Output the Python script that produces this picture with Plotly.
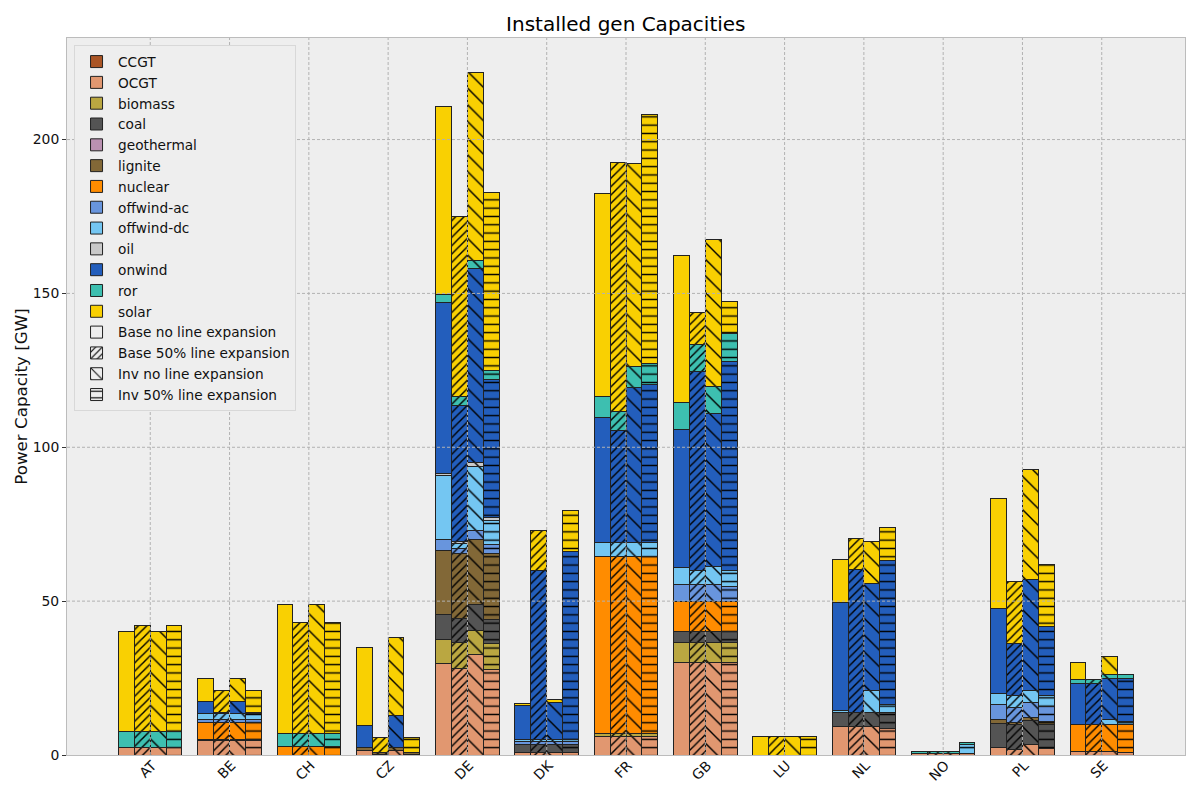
import plotly.graph_objects as go

countries = ["AT", "BE", "CH", "CZ", "DE", "DK", "FR", "GB", "LU", "NL", "NO", "PL", "SE"]

scenarios = [
    "Base no line expansion",
    "Base 50% line expansion",
    "Inv no line expansion",
    "Inv 50% line expansion",
]

y_ticks = [0, 50, 100, 150, 200]

# GW per stacked segment, four scenario values per country
ccgt = [0] * 52
geothermal = [0] * 52
ocgt = [
    2.6, 2.6, 2.6, 2.6,  4.6, 4.6, 4.6, 4.6,  0, 0, 0, 0,  1.5, 0.2, 1.5, 0.2,
    29.6, 28.2, 32.5, 27.8,  0.9, 0.9, 0.9, 0.9,  6.1, 6.1, 6.1, 6.1,
    29.9, 29.9, 29.9, 29.9,  0, 0, 0, 0,  9.2, 9.2, 9.2, 8.6,
    0.4, 0.4, 0.4, 0.4,  2.6, 1.9, 3.3, 2.0,  1.0, 1.0, 1.0, 0.9,
]
biomass = [
    0, 0, 0, 0,  0, 0, 0, 0,  0, 0, 0, 0,  0, 0, 0, 0,
    7.8, 8.2, 8.0, 8.3,  0, 0, 0, 0,  0.8, 0.8, 0.8, 0.8,
    6.7, 6.7, 6.7, 6.7,  0, 0, 0, 0,  0, 0, 0, 0,
    0, 0, 0, 0,  0, 0, 0, 0,  0, 0, 0, 0,
]
coal = [
    0, 0, 0, 0,  0.3, 0.3, 0.3, 0.3,  0, 0, 0, 0,  0, 0, 0, 0,
    8.1, 8.1, 8.4, 7.9,  2.4, 2.4, 2.4, 2.4,  0, 0, 0, 0,
    3.4, 3.4, 3.4, 3.4,  0, 0, 0, 0,  4.5, 4.5, 4.5, 5.1,
    0, 0, 0, 0,  7.7, 8.0, 7.8, 7.9,  0, 0, 0, 0,
]
lignite = [
    0, 0, 0, 0,  0, 0, 0, 0,  0, 0, 0, 0,  1.1, 0.6, 1.1, 0.6,
    21.1, 21.1, 21.1, 21.4,  0, 0, 0, 0,  0, 0, 0, 0,
    0, 0, 0, 0,  0, 0, 0, 0,  0, 0, 0, 0,
    0, 0, 0, 0,  1.1, 0.7, 1.0, 0.9,  0, 0, 0, 0,
]
nuclear = [
    0, 0, 0, 0,  5.8, 5.8, 5.8, 5.8,  2.8, 2.8, 2.8, 2.8,  0, 0, 0, 0,
    0, 0, 0, 0,  0, 0, 0, 0,  57.6, 57.6, 57.6, 57.6,
    9.9, 9.9, 9.9, 9.9,  0, 0, 0, 0,  0, 0, 0, 0,
    0, 0, 0, 0,  0, 0, 0, 0,  8.8, 8.8, 8.8, 8.9,
]
offwind_ac = [
    0, 0, 0, 0,  1.0, 1.0, 1.0, 1.0,  0, 0, 0, 0,  0, 0, 0, 0,
    3.3, 1.6, 2.9, 2.9,  1.0, 1.0, 1.0, 1.0,  0, 0, 0, 0,
    5.4, 5.4, 5.4, 4.7,  0, 0, 0, 0,  0, 0, 0, 0,
    0, 0, 0, 0,  4.9, 4.9, 4.9, 5.0,  0, 0, 0, 0,
]
offwind_dc = [
    0, 0, 0, 0,  1.9, 1.9, 1.9, 1.9,  0, 0, 0, 0,  0, 0, 0, 0,
    21.0, 1.5, 20.9, 7.9,  0.6, 0.6, 0.6, 0.6,  4.7, 4.7, 4.7, 4.7,
    5.5, 4.5, 5.8, 5.2,  0, 0, 0, 0,  0.9, 0.2, 7.1, 2.7,
    0, 0, 0, 3.0,  3.6, 3.9, 3.9, 3.5,  0, 0, 1.6, 1.2,
]
oil = [
    0, 0, 0, 0,  0, 0, 0, 0,  0, 0, 0, 0,  0, 0, 0, 0,
    0.7, 0.7, 1.1, 1.0,  0, 0, 0, 0,  0, 0, 0, 0,
    0, 0, 0, 0,  0, 0, 0, 0,  0, 0, 0, 0,
    0, 0, 0, 0,  0, 0, 0, 0,  0, 0, 0, 0,
]
onwind = [
    0, 0, 0, 0,  3.9, 0.1, 3.9, 0.1,  0, 0, 0, 0,  7.1, 0, 10.4, 0,
    55.5, 44.3, 63.3, 44.7,  11.1, 55.2, 12.2, 61.1,  40.6, 36.1, 50.3, 51.1,
    45.1, 64.8, 50.0, 68.0,  0, 0, 0, 0,  34.8, 46.3, 34.8, 46.7,
    0, 0, 0, 0,  27.7, 16.9, 36.1, 22.5,  13.3, 13.3, 13.4, 14.0,
]
ror = [
    4.9, 4.9, 4.9, 4.9,  0, 0, 0, 0,  4.3, 4.3, 4.3, 4.3,  0, 0, 0, 0,
    2.6, 2.9, 2.6, 2.9,  0, 0, 0, 0,  6.8, 6.4, 6.9, 7.0,
    8.8, 8.9, 8.6, 9.3,  0, 0, 0, 0,  0, 0, 0, 0,
    0.8, 0.8, 0.8, 0.6,  0, 0, 0, 0,  1.3, 1.3, 1.2, 1.3,
]
solar = [
    32.5, 34.7, 32.5, 34.7,  7.5, 7.1, 7.5, 7.1,  41.9, 35.8, 41.9, 35.8,  25.1, 5.0, 25.3, 5.0,
    61.1, 58.4, 61.0, 58.1,  0.7, 12.9, 0.8, 13.6,  65.9, 80.9, 65.9, 80.9,
    47.7, 10.4, 47.9, 10.4,  5.9, 6.1, 5.9, 6.1,  14.0, 10.3, 13.9, 10.7,
    0, 0, 0, 0,  35.9, 20.2, 35.9, 20.2,  5.8, 0, 5.9, 0,
]

carriers = [
    ("CCGT", ccgt, "#aa5525"),
    ("OCGT", ocgt, "#e19770"),
    ("biomass", biomass, "#baa741"),
    ("coal", coal, "#545454"),
    ("geothermal", geothermal, "#ba91b1"),
    ("lignite", lignite, "#826837"),
    ("nuclear", nuclear, "#ff8c00"),
    ("offwind-ac", offwind_ac, "#6895dd"),
    ("offwind-dc", offwind_dc, "#74c6f2"),
    ("oil", oil, "#c9c9c9"),
    ("onwind", onwind, "#235ebc"),
    ("ror", ror, "#3dbfb0"),
    ("solar", solar, "#f9d002"),
]

# shape, tile size, solidity for each scenario
hatches = [("", 8, 0), ("/", 5.9, 0.24), ("\\", 11.8, 0.12), ("-", 8.3, 0.17)]

bar_width = 0.2
edge = "#222222"
hatch_color = "#000000"
grid_color = "#b2b2b2"

fig = go.Figure()

for name, values, color in carriers:
    for s in range(4):
        shape, size, solidity = hatches[s]
        x_pos = [i + (s - 1.5) * bar_width for i in range(len(countries))]
        fig.add_trace(go.Bar(
            x=x_pos,
            y=values[s::4],
            width=bar_width,
            name=name,
            showlegend=s == 0,
            marker=dict(
                color=color,
                line=dict(color=edge, width=1),
                pattern=dict(shape=shape, size=size, solidity=solidity, fgcolor=hatch_color, fgopacity=1),
            ),
        ))

# empty bars, only there for the hatch entries of the legend
for s, scenario in enumerate(scenarios):
    shape, size, solidity = hatches[s]
    fig.add_trace(go.Bar(
        x=[None],
        y=[None],
        name=scenario,
        marker=dict(
            color="#eeeeee",
            line=dict(color=edge, width=1),
            pattern=dict(shape=shape, size=size, solidity=solidity, fgcolor=hatch_color, fgopacity=1),
        ),
    ))

# the grid sits on top of the bars in the reference
for i in range(len(countries)):
    fig.add_shape(type="line", layer="above", xref="x", yref="paper", x0=i, x1=i, y0=0, y1=1,
                  line=dict(color=grid_color, width=1, dash="3px,2px"))
for tick in y_ticks[1:]:
    fig.add_shape(type="line", layer="above", xref="paper", yref="y", x0=0, x1=1, y0=tick, y1=tick,
                  line=dict(color=grid_color, width=1, dash="3px,2px"))

fig.update_layout(
    width=1200,
    height=800,
    margin=dict(l=67, r=15, t=38, b=45),
    barmode="stack",
    paper_bgcolor="white",
    plot_bgcolor="#eeeeee",
    font=dict(family="DejaVu Sans", size=14, color="#111111"),
    title=dict(text="Installed gen Capacities", x=0.5215, xanchor="center", y=0.97, yanchor="middle",
               font=dict(size=20, color="black")),
    legend=dict(
        x=0.0063,
        y=0.99,
        xanchor="left",
        yanchor="top",
        traceorder="normal",
        itemwidth=33,
        bgcolor="#eeeeee",
        bordercolor="#d8d8d8",
        borderwidth=1,
        font=dict(size=13.7),
    ),
    xaxis=dict(
        range=[-1.05, 13.05],
        tickvals=list(range(len(countries))),
        ticktext=countries,
        tickangle=-45,
        ticklabelstandoff=-4,
        ticklabelshift=2,
        showgrid=False,
        zeroline=False,
        ticks="",
        showline=True,
        mirror=True,
        linecolor="#bcbcbc",
        tickfont=dict(size=13.9),
    ),
    yaxis=dict(
        range=[0, 233],
        tickvals=y_ticks,
        showgrid=False,
        zeroline=False,
        ticks="outside",
        ticklen=4,
        tickcolor="#333333",
        showline=True,
        mirror=True,
        linecolor="#bcbcbc",
        tickfont=dict(size=13.9),
        title=dict(text="Power Capacity [GW]", font=dict(size=16.7), standoff=0),
    ),
)

fig.write_html("out.html", config={"displayModeBar": False}, post_script="document.body.style.margin = '0';")
